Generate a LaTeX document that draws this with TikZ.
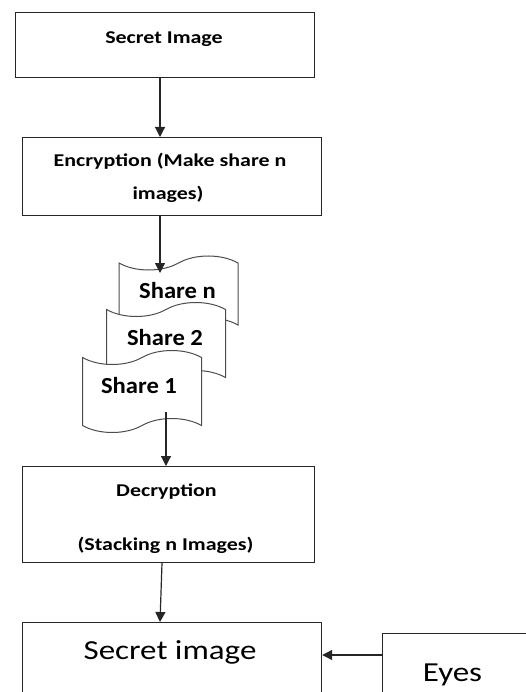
\documentclass[tikz,border=0pt]{standalone}
\usepackage{fontspec}
\setmainfont{Carlito}
\newfontfamily\boxfont[FakeStretch=1.22]{Carlito}
\newfontfamily\sharefont[FakeStretch=1.07]{Carlito}
\newfontfamily\bigfont[FakeStretch=1.2]{Carlito}
\usetikzlibrary{shapes.symbols,arrows.meta}
\begin{document}
\begin{tikzpicture}[x=1pt,y=-1pt,
  box/.style={draw=black!85, line width=1.2pt, fill=white, inner sep=0pt, anchor=north west},
  boxtext/.style={anchor=base, inner sep=0pt, font=\boxfont\bfseries\fontsize{18}{21}\selectfont},
  bigtext/.style={anchor=base, inner sep=0pt, font=\bigfont\fontsize{27.5}{31}\selectfont},
  sharebox/.style={tape, draw=black!70, line width=1pt, fill=white, inner sep=0pt,
    minimum width=119pt, minimum height=82pt, tape bend height=14pt},
  sharetext/.style={anchor=base, inner sep=0pt, font=\sharefont\bfseries\fontsize{23}{27}\selectfont},
  arr/.style={draw=black!85, line width=1.2pt, -{Triangle[length=10pt,width=10pt]}}]
\useasboundingbox (0,0) rectangle (526,692);
\clip (0,0) rectangle (526,692);

% process boxes
\node[box, minimum width=299pt, minimum height=65pt] (b1) at (15,12) {};
\node[boxtext] (t1) at (164,44) {Secret Image};

\node[box, minimum width=299pt, minimum height=78pt] (b2) at (22,137) {};
\node[boxtext] (t2a) at (170,167) {Encryption (Make share n};
\node[boxtext] (t2b) at (168,200) {images)};

% stacked shares, back to front
\node[sharebox, minimum height=76pt] (sn) at (178.5,294) {};
\node[sharetext] (tsn) at (177.5,298) {Share n};
\node[sharebox] (s2) at (166,343.5) {};
\node[sharetext] (ts2) at (165,345) {Share 2};
\node[sharebox] (s1) at (142,391.5) {};
\node[sharetext] (ts1) at (139,393) {Share 1};

\node[box, minimum width=292pt, minimum height=96pt] (b3) at (22,466) {};
\node[boxtext] (t3a) at (166.5,496) {Decryption};
\node[boxtext] (t3b) at (165.5,550) {(Stacking n Images)};

\node[box, minimum width=299pt, minimum height=110pt] (b4) at (22,622) {};
\node[bigtext] (t4) at (170,659) {Secret image};

\node[box, minimum width=200pt, minimum height=100pt] (eyes) at (382,633) {};
\node[bigtext] (te) at (452.5,681) {Eyes};

% connectors
\draw[arr] ([xshift=145pt]b1.south west) -- ([xshift=138pt]b2.north west);
\draw[arr] ([xshift=138pt]b2.south west) -- ([xshift=-18.5pt,yshift=21pt]sn.center);
\draw[arr] ([xshift=24pt,yshift=-20.5pt]s1.center) -- ([xshift=144pt]b3.north west);
\draw[arr] ([xshift=140pt]b3.south west) -- ([xshift=138pt]b4.north west);
\draw[arr] ([yshift=-22pt]eyes.north west) coordinate (e1) -- (e1 -| b4.east);
\end{tikzpicture}
\end{document}
